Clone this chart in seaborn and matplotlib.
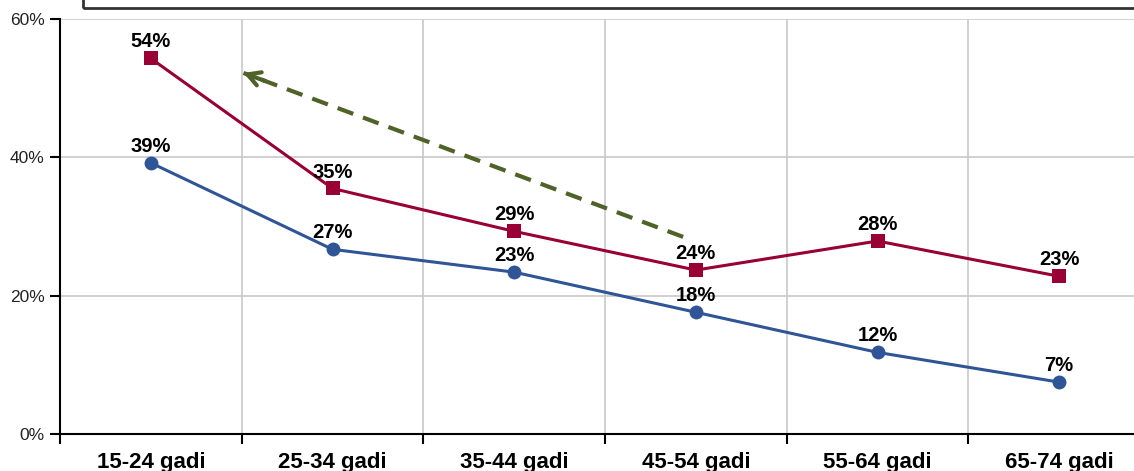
import matplotlib
matplotlib.use("Agg")
import matplotlib.pyplot as plt
import matplotlib.patches as patches
import seaborn as sns
import pandas as pd

age_groups = ["15-24 gadi", "25-34 gadi", "35-44 gadi", "45-54 gadi", "55-64 gadi", "65-74 gadi"]
series_red = [54.3, 35.5, 29.3, 23.7, 27.9, 22.8]
series_blue = [39.2, 26.7, 23.4, 17.6, 11.8, 7.5]
labels_red = ["54%", "35%", "29%", "24%", "28%", "23%"]
labels_blue = ["39%", "27%", "23%", "18%", "12%", "7%"]
y_ticks = [0, 20, 40, 60]

# trend arrow, from tail to head (category position, percent)
arrow_tail = (2.93, 28.5)
arrow_head = (0.51, 52.2)

RED = "#990033"
BLUE = "#2F5597"
GREEN = "#4F6228"

sns.set_style("white")
plt.rcParams["font.family"] = ["Liberation Sans", "DejaVu Sans"]
plt.rcParams["text.color"] = "black"
plt.rcParams["xtick.color"] = "black"
plt.rcParams["ytick.color"] = "black"

df = pd.DataFrame({
    "pos": list(range(len(age_groups))) * 2,
    "value": series_red + series_blue,
    "series": ["red"] * len(age_groups) + ["blue"] * len(age_groups),
})

fig = plt.figure(figsize=(11.34, 4.71), dpi=100)
ax = fig.add_axes([60 / 1134, 37 / 471, 1090 / 1134, 415 / 471])

sns.lineplot(data=df, x="pos", y="value", hue="series", style="series",
             palette={"red": RED, "blue": BLUE},
             markers={"red": "s", "blue": "o"}, dashes=False,
             markersize=10, markeredgewidth=0, linewidth=2.2, legend=False, ax=ax)

ax.set_xlim(-0.5, len(age_groups) - 0.5)
ax.set_ylim(0, 60)

# grid
for y in y_ticks[1:]:
    ax.axhline(y, color="#c8c8c8", linewidth=1.2, zorder=0)
for b in range(1, len(age_groups)):
    ax.axvline(b - 0.5, color="#c8c8c8", linewidth=1.2, zorder=0)

ax.set_yticks(y_ticks)
ax.set_yticklabels([f"{v}%" for v in y_ticks], fontsize=12.5, color="#222222")
ax.set_xticks([i - 0.5 for i in range(len(age_groups) + 1)])
ax.set_xticklabels([])
ax.set_xticks(range(len(age_groups)), minor=True)
ax.set_xticklabels(age_groups, minor=True, fontsize=16, fontweight="bold")
ax.tick_params(axis="x", which="minor", bottom=False, length=0, pad=13)
ax.tick_params(axis="x", which="major", bottom=True, length=7, width=1.5,
               direction="out", color="black")
ax.tick_params(axis="y", left=True, length=7, width=1.5, direction="out",
               color="black", pad=4)
ax.set_xlabel("")
ax.set_ylabel("")

for side in ["top", "right"]:
    ax.spines[side].set_visible(False)
for side in ["left", "bottom"]:
    ax.spines[side].set_color("black")
    ax.spines[side].set_linewidth(1.5)

for i, (v, lab) in enumerate(zip(series_red, labels_red)):
    ax.annotate(lab, (i, v), xytext=(0, 5), textcoords="offset points",
                ha="center", va="bottom", fontsize=14.5, fontweight="bold")
for i, (v, lab) in enumerate(zip(series_blue, labels_blue)):
    ax.annotate(lab, (i, v), xytext=(0, 5), textcoords="offset points",
                ha="center", va="bottom", fontsize=14.5, fontweight="bold")

# dashed trend arrow: dashed shaft plus a solid open head
ax.plot([arrow_tail[0], arrow_head[0]], [arrow_tail[1], arrow_head[1]],
        color=GREEN, linewidth=3, linestyle=(0, (4, 2.5)), zorder=3)
near = (arrow_head[0] + 0.05 * (arrow_tail[0] - arrow_head[0]),
        arrow_head[1] + 0.05 * (arrow_tail[1] - arrow_head[1]))
ax.annotate("", xy=arrow_head, xytext=near,
            arrowprops=dict(arrowstyle="->,head_length=0.9,head_width=0.5",
                            color=GREEN, linewidth=3, shrinkA=0, shrinkB=0))

# clipped title box at top
fig.patches.append(patches.Rectangle((83 / 1134, 463 / 471), 1.1, 0.1,
                                     transform=fig.transFigure, fill=False,
                                     edgecolor="#333333", linewidth=2))

fig.savefig("out.png", dpi=100)
